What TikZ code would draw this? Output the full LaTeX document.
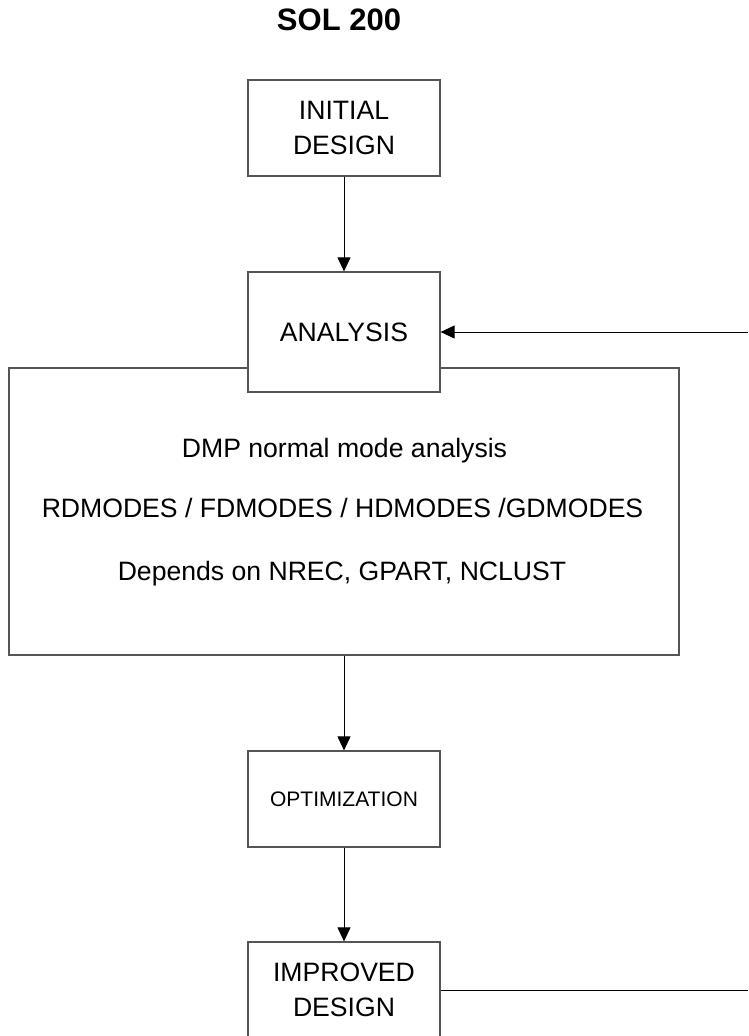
\documentclass[tikz,border=0pt]{standalone}
\usepackage{fontspec}
\setmainfont{Liberation Sans}
\usetikzlibrary{arrows.meta}
\definecolor{edge}{RGB}{85,85,85}
\begin{document}
\begin{tikzpicture}[x=1pt,y=-1pt,
  box/.style={draw=edge, line width=1.2pt, fill=white, minimum width=192pt,
    minimum height=96pt, inner sep=0pt, align=center,
    font=\fontsize{26.6}{35}\selectfont},
  flow/.style={draw=black, line width=1pt, -{Triangle[length=14pt,width=13pt]}},
  link/.style={draw=black, line width=1pt},
  body/.style={font=\fontsize{26.6}{31}\selectfont, anchor=base, inner sep=0pt}]
\useasboundingbox (0,0) rectangle (748,1036);
\clip (0,0) rectangle (748,1036);

% title
\node[font=\bfseries\fontsize{31}{37}\selectfont, inner sep=0pt] (title) at (339,20) {SOL 200};

% flow boxes
\node[box] (init) at (344,128) {INITIAL\\DESIGN};
\node[draw=edge, line width=1.2pt, minimum width=670pt, minimum height=287pt,
  inner sep=0pt] (dmp) at (344,511.5) {};
\node[box, minimum height=120pt] (ana) at (344,332) {ANALYSIS};
\node[body] (l1) at (344.5,457) {DMP normal mode analysis};
\node[body] (l2) at (342.5,517) {RDMODES / FDMODES / HDMODES /GDMODES};
\node[body] (l3) at (342,580) {Depends on NREC, GPART, NCLUST};
\node[box, font=\fontsize{21}{25}\selectfont] (opt) at (344,799) {OPTIMIZATION};
\node[box] (imp) at (344,990) {IMPROVED\\DESIGN};

% connectors
\coordinate (loopin) at (748,332);
\coordinate (loopout) at (748,990);
\draw[flow] (init.south) -- (ana.north);
\draw[flow] (dmp.south) -- (opt.north);
\draw[flow] (opt.south) -- (imp.north);
\draw[link] (imp.east) -- (loopout);
\draw[flow] (loopin) -- (ana.east);
\end{tikzpicture}
\end{document}
